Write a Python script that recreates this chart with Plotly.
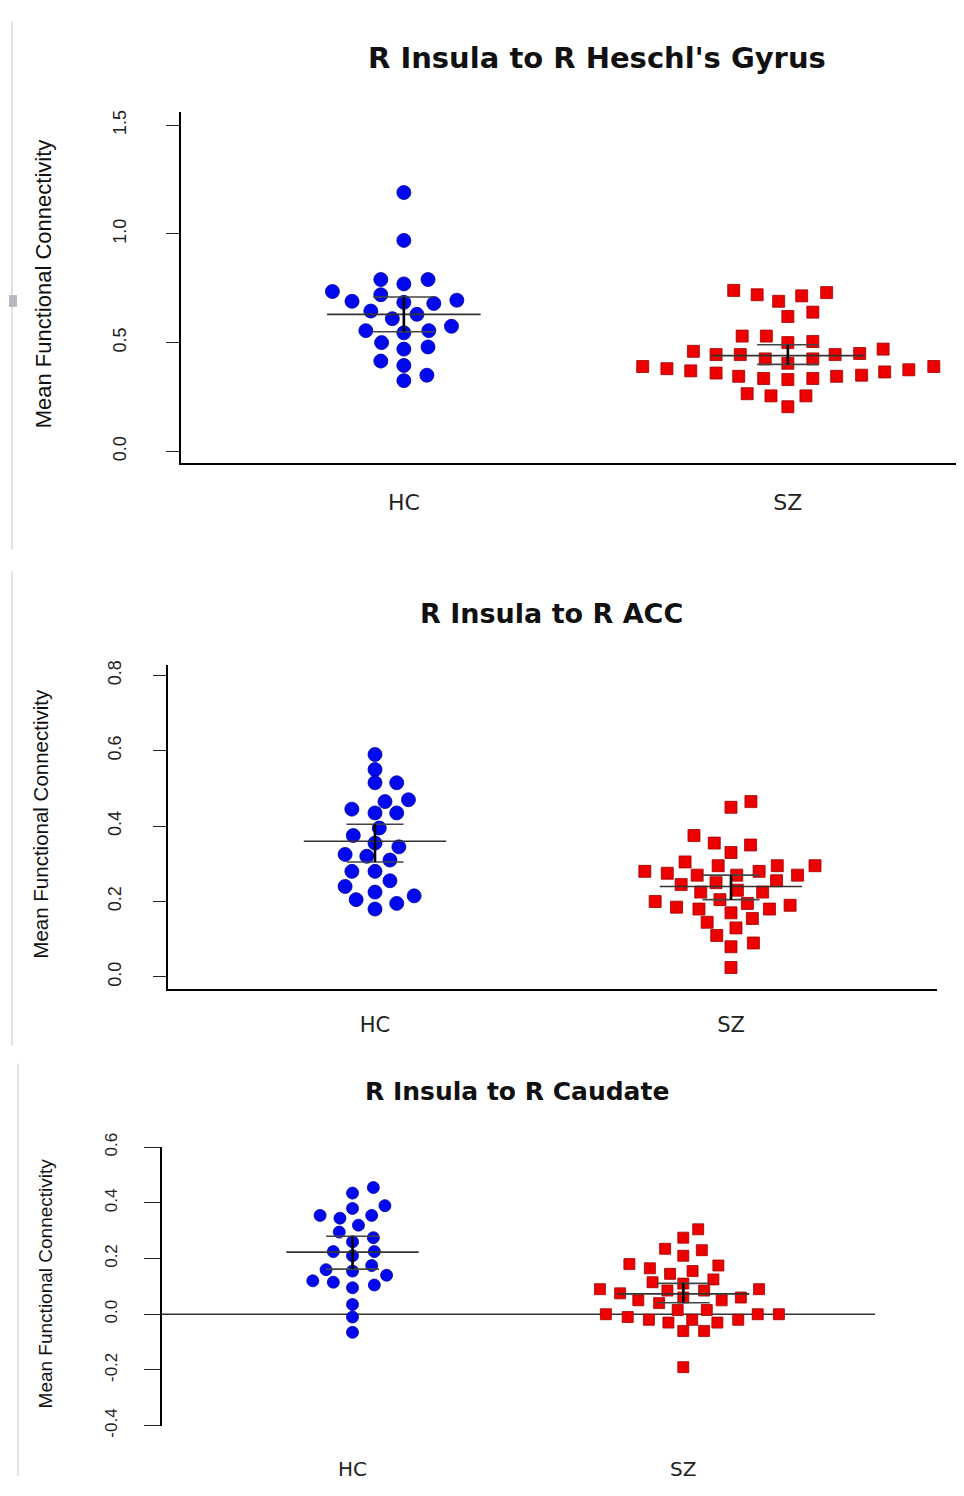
import plotly.graph_objects as go

# page (browser window) 964x1496; the html body has an 8px margin
OFF = 8
W, H = 964 - 2 * OFF, 1496 - 2 * OFF

# ---------------- data ----------------
groups = ["HC", "SZ"]

titles = ["R Insula to R Heschl's Gyrus", "R Insula to R ACC", "R Insula to R Caudate"]
y_label = "Mean Functional Connectivity"

# Panel 1: R Insula to R Heschl's Gyrus
p1_hc_vals = [1.19, 0.97, 0.79, 0.77, 0.79, 0.735, 0.72, 0.69, 0.685, 0.68, 0.695,
              0.645, 0.61, 0.63, 0.555, 0.545, 0.555, 0.575, 0.50, 0.47, 0.48,
              0.415, 0.395, 0.325, 0.35]
p1_hc_jit = [0, 0, -0.06, 0, 0.063, -0.186, -0.06, -0.135, 0, 0.078, 0.138,
             -0.086, -0.03, 0.034, -0.099, 0, 0.065, 0.124, -0.058, 0, 0.063,
             -0.06, 0, 0, 0.06]
p1_sz_vals = [0.74, 0.72, 0.69, 0.715, 0.73, 0.62, 0.64, 0.53, 0.53, 0.50, 0.505,
              0.46, 0.445, 0.445, 0.445, 0.45, 0.47, 0.425, 0.405, 0.425,
              0.39, 0.38, 0.37, 0.36, 0.345, 0.335, 0.33, 0.335, 0.345, 0.35,
              0.365, 0.375, 0.39, 0.265, 0.255, 0.255, 0.205]
p1_sz_jit = [-0.141, -0.08, -0.024, 0.036, 0.101, 0, 0.065, -0.119, -0.056, 0, 0.065,
             -0.246, -0.187, -0.124, 0.123, 0.187, 0.248, -0.059, 0, 0.065,
             -0.378, -0.315, -0.253, -0.187, -0.128, -0.063, 0, 0.065, 0.127, 0.192,
             0.252, 0.315, 0.38, -0.106, -0.044, 0.047, 0]
p1_mean = [0.63, 0.44]
p1_lo = [0.55, 0.40]
p1_hi = [0.71, 0.49]

# Panel 2: R Insula to R ACC
p2_hc_vals = [0.59, 0.55, 0.515, 0.515, 0.465, 0.47, 0.445, 0.435, 0.435, 0.395,
              0.375, 0.355, 0.345, 0.325, 0.32, 0.31, 0.28, 0.28, 0.255, 0.24,
              0.225, 0.205, 0.18, 0.195, 0.215]
p2_hc_jit = [0, 0, 0, 0.061, 0.028, 0.094, -0.065, 0, 0.061, 0.012,
             -0.061, 0, 0.067, -0.084, -0.023, 0.042, -0.065, 0, 0.042, -0.084,
             0, -0.053, 0, 0.061, 0.11]
p2_sz_vals = [0.45, 0.465, 0.375, 0.355, 0.35, 0.33, 0.305, 0.295, 0.28, 0.275,
              0.27, 0.27, 0.28, 0.295, 0.27, 0.295, 0.245, 0.25, 0.255, 0.225,
              0.23, 0.225, 0.2, 0.185, 0.18, 0.205, 0.195, 0.18, 0.19, 0.17,
              0.145, 0.155, 0.13, 0.11, 0.08, 0.09, 0.025]
p2_sz_jit = [0, 0.056, -0.104, -0.047, 0.055, 0, -0.129, -0.036, -0.242, -0.179,
             -0.095, 0.016, 0.079, 0.13, 0.187, 0.236, -0.14, -0.042, 0.128, -0.085,
             0.018, 0.089, -0.213, -0.153, -0.09, -0.031, 0.046, 0.108, 0.166, 0,
             -0.067, 0.06, 0.014, -0.04, 0, 0.063, 0]
p2_mean = [0.36, 0.24]
p2_lo = [0.305, 0.205]
p2_hi = [0.405, 0.27]

# Panel 3: R Insula to R Caudate
p3_hc_vals = [0.435, 0.455, 0.39, 0.38, 0.355, 0.345, 0.355, 0.32, 0.295, 0.275,
              0.26, 0.225, 0.21, 0.225, 0.175, 0.16, 0.155, 0.14, 0.12, 0.115,
              0.095, 0.105, 0.035, -0.01, -0.065]
p3_hc_jit = [0, 0.063, 0.098, 0, -0.098, -0.038, 0.058, 0.018, -0.04, 0.063,
             0, -0.058, 0, 0.066, 0.058, -0.08, 0, 0.103, -0.12, -0.058,
             0, 0.066, 0, 0, 0]
p3_sz_vals = [0.305, 0.275, 0.235, 0.21, 0.23, 0.18, 0.165, 0.145, 0.155, 0.175,
              0.115, 0.11, 0.125, 0.09, 0.075, 0.085, 0.085, 0.09, 0.05, 0.04,
              0.06, 0.05, 0.06, 0.015, 0.015, 0.0, -0.01, -0.02, -0.03, -0.02,
              -0.03, -0.02, 0.0, 0.0, -0.06, -0.06, -0.19]
p3_sz_jit = [0.045, 0, -0.055, 0, 0.056, -0.163, -0.101, -0.04, 0.028, 0.106,
             -0.093, 0, 0.091, -0.252, -0.191, -0.048, 0.063, 0.229, -0.136, -0.073,
             0, 0.116, 0.174, -0.017, 0.071, -0.234, -0.168, -0.104, -0.045, 0.027,
             0.103, 0.166, 0.225, 0.289, 0, 0.063, 0]
p3_mean = [0.223, 0.073]
p3_lo = [0.162, 0.041]
p3_hi = [0.28, 0.111]

p1_ticks = [0.0, 0.5, 1.0, 1.5]
p1_tick_text = ["0.0", "0.5", "1.0", "1.5"]
p2_ticks = [0.0, 0.2, 0.4, 0.6, 0.8]
p2_tick_text = ["0.0", "0.2", "0.4", "0.6", "0.8"]
p3_ticks = [-0.4, -0.2, 0.0, 0.2, 0.4, 0.6]
p3_tick_text = ["-0.4", "-0.2", "0.0", "0.2", "0.4", "0.6"]

# ---------------- layout geometry (pixel positions on the page) ----------------
def fx(px):
    return (px - OFF) / W

def fy(py):
    return 1 - (py - OFF) / H

panels = [
    dict(hc=(p1_hc_vals, p1_hc_jit), sz=(p1_sz_vals, p1_sz_jit), mean=p1_mean, lo=p1_lo, hi=p1_hi,
         ticks=(p1_ticks, p1_tick_text),
         xd=(181, 960), yd=(457, 100), xr=[0.4197, 2.4378], yr=[-0.0542, 1.5587],
         tick_fs=18, msize=(14, 12), standoff=33, ticklen=13,
         xline=True, title_xy=(597, 45), title_fs=29, ylab_xy=(43, 275), ylab_fs=22,
         xlab_fs=22, xlab_standoff=19),
    dict(hc=(p2_hc_vals, p2_hc_jit), sz=(p2_sz_vals, p2_sz_jit), mean=p2_mean, lo=p2_lo, hi=p2_hi,
         ticks=(p2_ticks, p2_tick_text),
         xd=(168, 937), yd=(992, 662), xr=[0.4185, 2.5787], yr=[-0.0313, 0.8287],
         tick_fs=18, msize=(14, 12), standoff=25, ticklen=13,
         xline=True, title_xy=(551, 610), title_fs=27, ylab_xy=(41, 824), ylab_fs=20.5,
         xlab_fs=21, xlab_standoff=16),
    dict(hc=(p3_hc_vals, p3_hc_jit), sz=(p3_sz_vals, p3_sz_jit), mean=p3_mean, lo=p3_lo, hi=p3_hi,
         ticks=(p3_ticks, p3_tick_text),
         xd=(162, 875), yd=(1436.7, 1153.3), xr=[0.4241, 2.5795], yr=[-0.4, 0.6],
         tick_fs=17, msize=(12, 11), standoff=20, ticklen=16,
         xline=False, title_xy=(517, 1097), title_fs=25, ylab_xy=(45, 1292), ylab_fs=19,
         xlab_fs=20, xlab_standoff=29),
]

MEAN_HW = 0.2
CAP_HW = 0.08

fig = go.Figure()
layout = dict(width=W, height=H, margin=dict(l=0, r=0, t=0, b=0),
              paper_bgcolor="white", plot_bgcolor="white", showlegend=False,
              annotations=[], shapes=[])

for i, p in enumerate(panels):
    k = "" if i == 0 else str(i + 1)
    xa, ya = "x" + k, "y" + k
    # points
    for gi, (vals, jit) in enumerate([p["hc"], p["sz"]]):
        xs = [gi + 1 + j for j in jit]
        if gi == 0:
            mk = dict(symbol="circle", size=p["msize"][0], color="#0008EE",
                      line=dict(color="#0000A0", width=0.8))
        else:
            mk = dict(symbol="square", size=p["msize"][1], color="#EE0000",
                      line=dict(color="#A00000", width=0.8))
        fig.add_trace(go.Scatter(x=xs, y=vals, mode="markers", marker=mk,
                                 xaxis=xa, yaxis=ya, hoverinfo="y"))
    # mean and error bars
    for gi in range(2):
        c = gi + 1
        m, lo, hi = p["mean"][gi], p["lo"][gi], p["hi"][gi]
        fig.add_trace(go.Scatter(x=[c - MEAN_HW, c + MEAN_HW], y=[m, m], mode="lines",
                                 line=dict(color="#333333", width=1.6),
                                 xaxis=xa, yaxis=ya, hoverinfo="skip"))
        for v in (lo, hi):
            fig.add_trace(go.Scatter(x=[c - CAP_HW, c + CAP_HW], y=[v, v], mode="lines",
                                     line=dict(color="#444444", width=1.6),
                                     xaxis=xa, yaxis=ya, hoverinfo="skip"))
        fig.add_trace(go.Scatter(x=[c, c], y=[lo, hi], mode="lines",
                                 line=dict(color="#000000", width=2.6),
                                 xaxis=xa, yaxis=ya, hoverinfo="skip"))

    layout["xaxis" + k] = dict(
        domain=[fx(p["xd"][0]), min(1.0, fx(p["xd"][1]))], range=p["xr"], anchor=ya,
        showline=p["xline"], linecolor="black", linewidth=1.5, mirror=False,
        showgrid=False, zeroline=False, ticks="",
        tickvals=[1, 2], ticktext=groups,
        tickfont=dict(family="DejaVu Sans", size=p["xlab_fs"], color="#222222"),
        ticklabelstandoff=p["xlab_standoff"], fixedrange=True)
    layout["yaxis" + k] = dict(
        domain=[fy(p["yd"][0]), fy(p["yd"][1])], range=p["yr"], anchor=xa,
        showline=True, linecolor="black", linewidth=1.5,
        showgrid=False, zeroline=False, ticks="outside", ticklen=p["ticklen"],
        tickwidth=1.2, tickcolor="#222222",
        tickvals=p["ticks"][0], ticktext=p["ticks"][1], tickangle=-90,
        tickfont=dict(family="Liberation Sans", size=p["tick_fs"], color="#222222"),
        ticklabelstandoff=p["standoff"], fixedrange=True)

    layout["annotations"].append(dict(
        text="<b>" + titles[i] + "</b>", x=fx(p["title_xy"][0]), y=fy(p["title_xy"][1]),
        xref="paper", yref="paper", xanchor="center", yanchor="middle", showarrow=False,
        font=dict(family="DejaVu Sans", size=p["title_fs"], color="#111111")))
    layout["annotations"].append(dict(
        text=y_label, x=fx(p["ylab_xy"][0]), y=fy(p["ylab_xy"][1]), textangle=-90,
        xref="paper", yref="paper", xanchor="center", yanchor="middle", showarrow=False,
        font=dict(family="Liberation Sans", size=p["ylab_fs"], color="#111111")))

# zero reference line in the third panel
layout["shapes"].append(dict(type="line", xref="x3 domain", x0=0, x1=1, yref="y3", y0=0, y1=0,
                             line=dict(color="#333333", width=1.3), layer="below"))

# thin grey panel borders on the left edge of the composite
for (px, top, bot) in [(12, 8, 545), (12, 567, 1050), (18, 1068, 1488)]:
    layout["shapes"].append(dict(type="line", xref="paper", yref="paper",
                                 x0=fx(px), x1=fx(px), y0=fy(bot), y1=fy(top),
                                 line=dict(color="#D0D0D0", width=1.2)))
layout["shapes"].append(dict(type="rect", xref="paper", yref="paper",
                             x0=fx(9), x1=fx(17), y0=fy(298), y1=fy(286),
                             line=dict(width=0), fillcolor="#B8B8C0"))

fig.update_layout(**layout)
fig.write_html("out.html")
